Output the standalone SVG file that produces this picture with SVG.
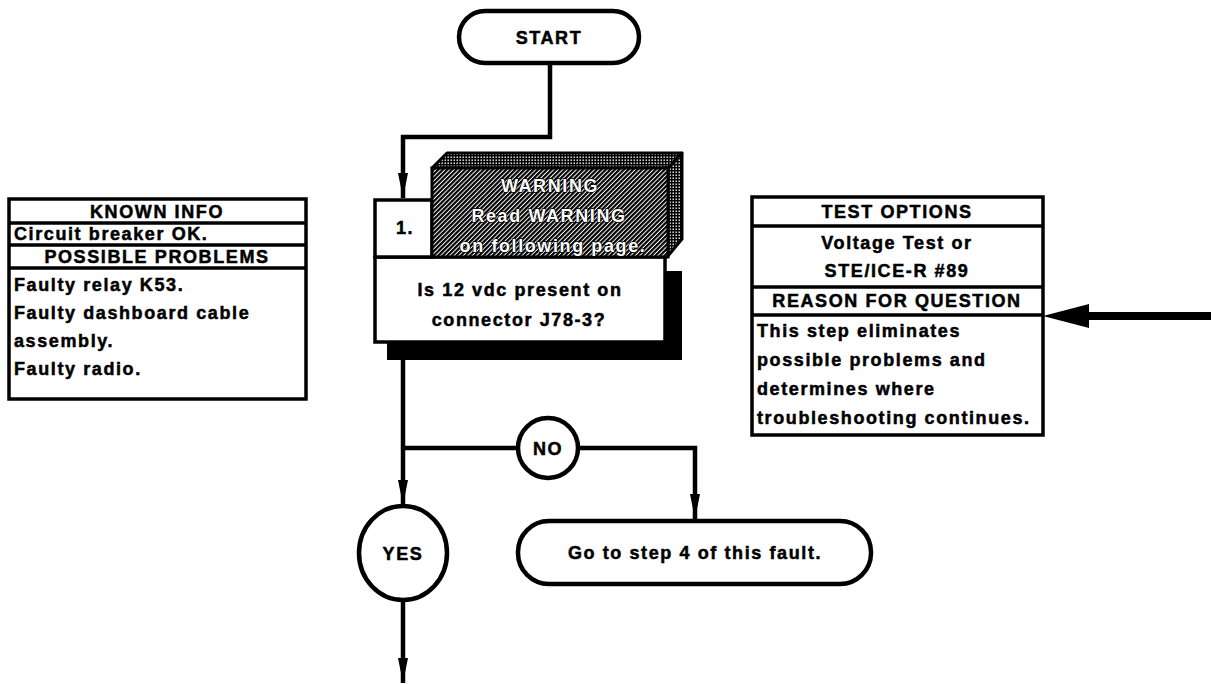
<svg xmlns="http://www.w3.org/2000/svg" width="1211" height="684" viewBox="0 0 1211 684">
  <defs>
    <style>
      text { font-family: "Liberation Sans", Arial, sans-serif; font-weight: bold; font-size: 18px; letter-spacing: 1.6px; fill: #000; stroke: #000; stroke-width: 0.5px; }
      .c { text-anchor: middle; }
      .warn { fill: #fff; stroke: #000; stroke-width: 1.4px; paint-order: stroke; text-anchor: middle; }
      .box { fill: #fff; stroke: #000; stroke-width: 3.5; }
      .term { fill: #fff; stroke: #000; stroke-width: 4.5; }
      .wire { fill: none; stroke: #000; stroke-width: 4.5; stroke-linejoin: miter; }
    </style>
    <!-- diagonal hatch for the warning face -->
    <pattern id="hatch" width="3.2" height="3.2" patternUnits="userSpaceOnUse" patternTransform="rotate(45)">
      <rect width="3.2" height="3.2" fill="#fff"/>
      <rect width="2.2" height="3.2" fill="#000"/>
    </pattern>
    <!-- fine dot screen for the top and side bevels -->
    <pattern id="dots" width="3" height="3" patternUnits="userSpaceOnUse">
      <rect width="3" height="3" fill="#000"/>
      <rect x="0.5" y="0.5" width="1.4" height="1.4" fill="#fff"/>
    </pattern>
    <marker id="arr" markerUnits="userSpaceOnUse" markerWidth="26" markerHeight="12" refX="25" refY="6" orient="auto">
      <path d="M0,1 L25,6 L0,11 Z" fill="#000"/>
    </marker>
  </defs>

  <!-- connectors -->
  <g id="connectors">
    <polyline class="wire" points="550,63 550,137 403,137 403,198" marker-end="url(#arr)"/>
    <polyline class="wire" points="403,360 403,505" marker-end="url(#arr)"/>
    <polyline class="wire" points="403,448 518,448"/>
    <polyline class="wire" points="578,448 695,448 695,519" marker-end="url(#arr)"/>
    <polyline class="wire" points="403,600 403,683" marker-end="url(#arr)"/>
    <!-- heavy pointer into the reason panel -->
    <line x1="1211" y1="316" x2="1085" y2="316" stroke="#000" stroke-width="8"/>
    <path d="M1043,316 L1089,304 L1089,328 Z" fill="#000"/>
  </g>

  <g id="start">
    <rect class="term" x="459" y="11" width="180" height="52" rx="26"/>
    <text class="c" x="549" y="44">START</text>
  </g>

  <g id="step1">
    <!-- drop shadow -->
    <path d="M387,342 L665,342 L665,271 L682,271 L682,360 L387,360 Z" fill="#000"/>
    <rect class="box" x="375" y="257" width="290" height="85"/>
    <rect class="box" x="375" y="200" width="57" height="57"/>
    <text class="c" x="405" y="234">1.</text>
    <text class="c" x="520" y="296">Is 12 vdc present on</text>
    <text class="c" x="519" y="326">connector J78-3?</text>
  </g>

  <g id="warning">
    <polygon points="432,168 447,153 682,153 668,168" fill="url(#dots)" stroke="#000" stroke-width="3" stroke-linejoin="round"/>
    <polygon points="668,168 682,153 682,239 668,256" fill="url(#dots)" stroke="#000" stroke-width="3" stroke-linejoin="round"/>
    <rect x="432" y="168" width="236" height="89" fill="url(#hatch)" stroke="#000" stroke-width="3"/>
    <text class="warn" x="550" y="192">WARNING</text>
    <text class="warn" x="549" y="222">Read WARNING</text>
    <text class="warn" x="553" y="252">on following page.</text>
  </g>

  <g id="known-info">
    <rect class="box" x="9" y="199" width="297" height="200"/>
    <line x1="9" y1="223" x2="306" y2="223" stroke="#000" stroke-width="3.5"/>
    <line x1="9" y1="245" x2="306" y2="245" stroke="#000" stroke-width="3.5"/>
    <line x1="9" y1="268" x2="306" y2="268" stroke="#000" stroke-width="3.5"/>
    <text class="c" x="157" y="218">KNOWN INFO</text>
    <text x="14" y="240">Circuit breaker OK.</text>
    <text class="c" x="157" y="263">POSSIBLE PROBLEMS</text>
    <text x="14" y="291">Faulty relay K53.</text>
    <text x="14" y="319">Faulty dashboard cable</text>
    <text x="14" y="347">assembly.</text>
    <text x="14" y="375">Faulty radio.</text>
  </g>

  <g id="test-options">
    <rect class="box" x="752" y="197" width="291" height="238"/>
    <line x1="752" y1="226" x2="1043" y2="226" stroke="#000" stroke-width="3.5"/>
    <line x1="752" y1="287" x2="1043" y2="287" stroke="#000" stroke-width="3.5"/>
    <line x1="752" y1="315" x2="1043" y2="315" stroke="#000" stroke-width="3.5"/>
    <text class="c" x="897" y="218">TEST OPTIONS</text>
    <text class="c" x="897" y="249">Voltage Test or</text>
    <text class="c" x="897" y="277">STE/ICE-R #89</text>
    <text class="c" x="897" y="307">REASON FOR QUESTION</text>
    <text x="757" y="337">This step eliminates</text>
    <text x="757" y="366">possible problems and</text>
    <text x="757" y="395">determines where</text>
    <text x="757" y="424">troubleshooting continues.</text>
  </g>

  <g id="no">
    <ellipse class="term" cx="548" cy="448" rx="30" ry="30"/>
    <text class="c" x="548" y="455">NO</text>
  </g>

  <g id="yes">
    <ellipse class="term" cx="403" cy="553" rx="44" ry="47"/>
    <text class="c" x="403" y="560">YES</text>
  </g>

  <g id="goto-step4">
    <rect class="term" x="518" y="521" width="353" height="63" rx="31"/>
    <text class="c" x="695" y="559">Go to step 4 of this fault.</text>
  </g>
</svg>
